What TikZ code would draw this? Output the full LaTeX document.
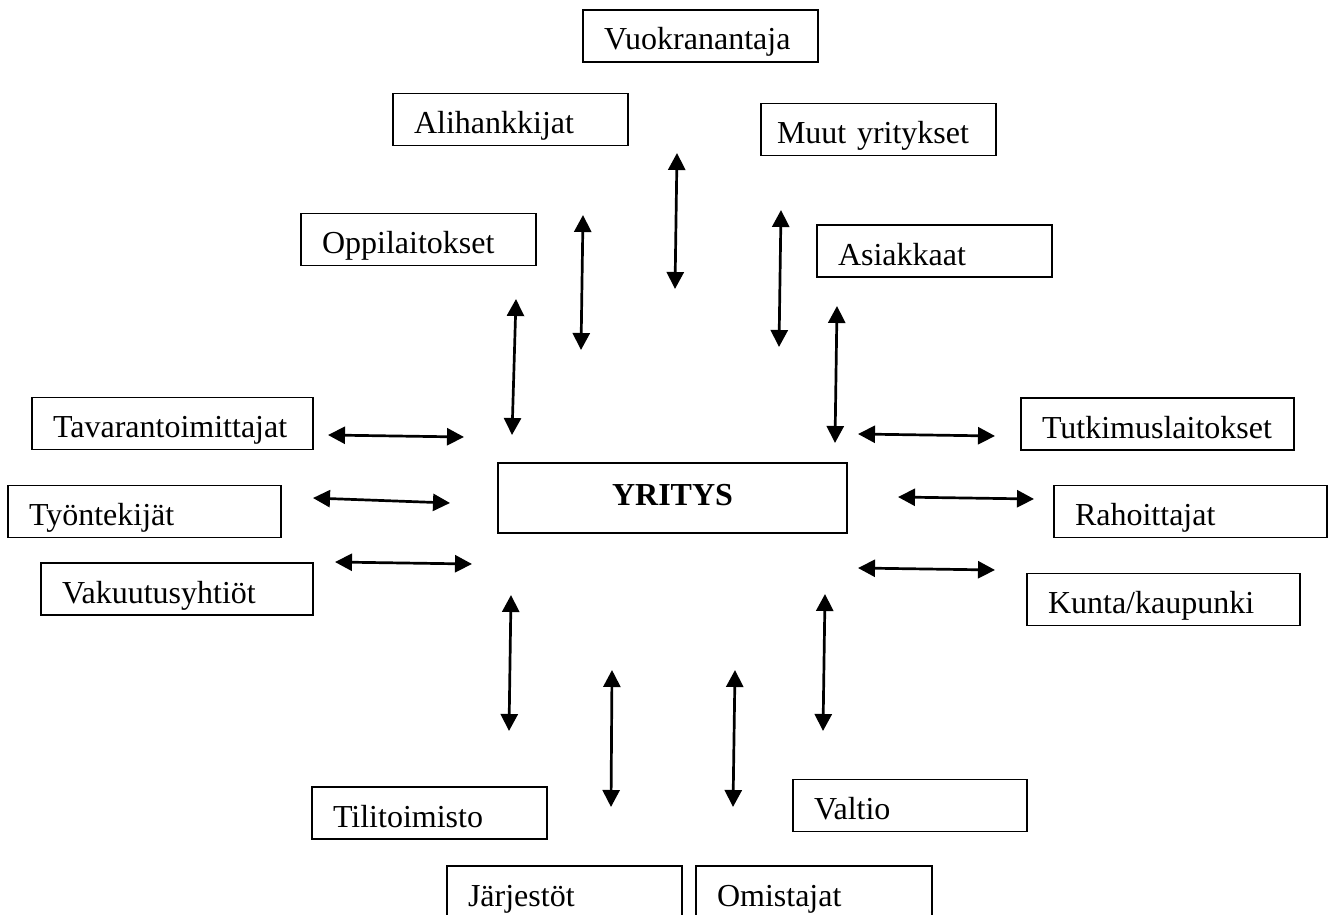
\documentclass[tikz,border=0pt]{standalone}
\usepackage{fontspec}
\setmainfont{Liberation Serif}
\usetikzlibrary{arrows.meta}

\tikzset{
    partner/.style={draw, line width=1.5pt, inner xsep=21pt, inner ysep=0pt,
        minimum height=52pt, text height=28pt, text depth=0pt,
        text width=193pt, align=left, font=\fontsize{32}{36}\selectfont},
    widepartner/.style={partner, text width=231pt},
    firm/.style={draw, line width=1.5pt, minimum width=349pt, minimum height=70pt,
        inner sep=0pt, text height=14pt, text depth=0pt,
        font=\fontsize{32}{36}\selectfont\bfseries},
    link/.style={line width=2.7pt,
        {Triangle[length=17pt, width=17pt]}-{Triangle[length=17pt, width=17pt]}}
}

\begin{document}
\begin{tikzpicture}[x=1pt, y=-1pt]
    \useasboundingbox (0,0) rectangle (1330,915);

    % the firm in the middle
    \node[firm] (yritys) at (672.5, 498) {YRITYS};

    % stakeholders, clockwise from the top
    \node[partner] (vuokra) at (700.5, 36) {Vuokranantaja};
    \node[partner, inner xsep=16pt, text width=203pt] (muut) at (878.5, 129.5) {Muut yritykset};
    \node[partner] (asiak) at (934.5, 251) {Asiakkaat};
    \node[widepartner] (tutk) at (1157.5, 424) {Tutkimuslaitokset};
    \node[widepartner] (rahoit) at (1190.5, 511.5) {Rahoittajat};
    \node[widepartner] (kunta) at (1163.5, 599.5) {Kunta/kaupunki};
    \node[partner, text width=192pt] (valtio) at (910, 805.5) {Valtio};
    \node[partner, text width=194pt] (omist) at (814, 892) {Omistajat};
    \node[partner] (jarj) at (564.5, 892) {Järjestöt};
    \node[partner] (tili) at (429.5, 813) {Tilitoimisto};
    \node[widepartner, text width=230pt] (vakuut) at (177, 589) {Vakuutusyhtiöt};
    \node[widepartner] (tyont) at (144.5, 511.5) {Työntekijät};
    \node[widepartner, text width=239pt] (tavara) at (172.5, 423.5) {Tavarantoimittajat};
    \node[partner] (oppi) at (418.5, 239.5) {Oppilaitokset};
    \node[partner] (alihank) at (510.5, 119.5) {Alihankkijat};

    % free-standing two-way arrows
    \foreach \n/\ax/\ay/\bx/\by in {
        oppi/516/299/512/435, alihank/583/215/581/350, vuokra/677/153/675/289,
        muut/781/210/779/347, asiak/837/306/835/443,
        tavara/328/435/464/437, tyont/313/498/450/503, vakuut/335/562/472/564,
        tutk/858/434/995/436, rahoit/898/497/1034/499, kunta/858/568/995/570,
        tili/511/595/509/731, jarj/612/670/611/807, omist/735/670/733/807,
        valtio/825/594/823/731} {
        \coordinate (\n-a) at (\ax, \ay);
        \coordinate (\n-b) at (\bx, \by);
        \draw[link] (\n-a) -- (\n-b);
    }
\end{tikzpicture}
\end{document}
